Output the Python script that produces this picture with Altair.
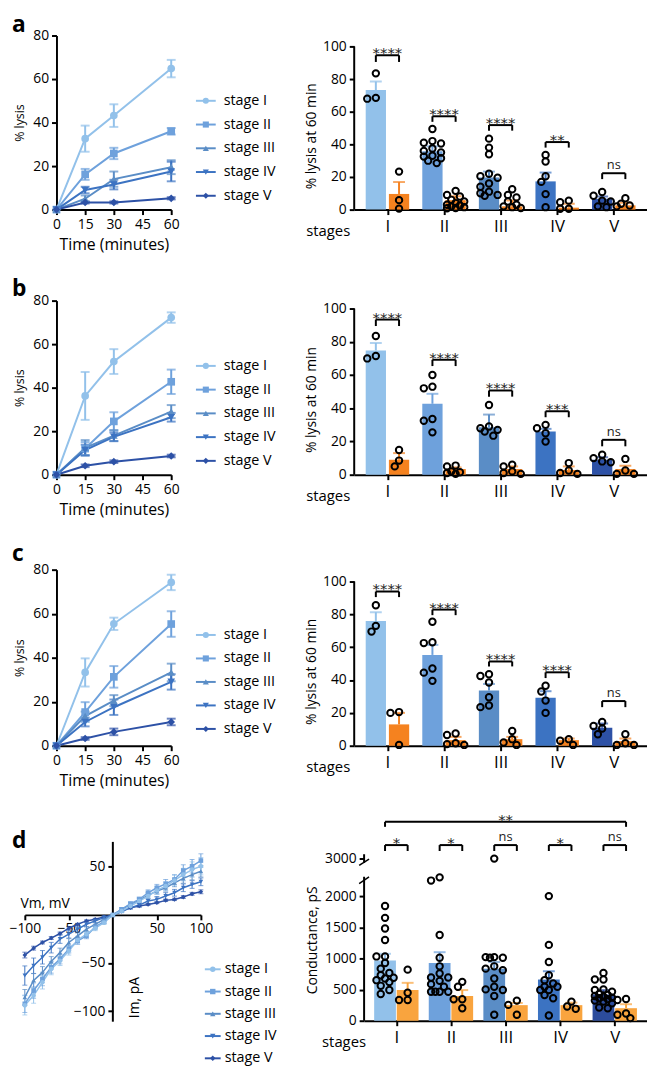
import altair as alt
import pandas as pd

FONT = "Open Sans"
STAGES = ["stage I", "stage II", "stage III", "stage IV", "stage V"]
ROMAN = ["I", "II", "III", "IV", "V"]
STAGE_COLORS = ["#92c1ea", "#6ea1dc", "#5a8dc6", "#3c73c2", "#2d51a6"]
STAGE_COLORS_D = ["#92c1ea", "#6ea1dc", "#5a8dc6", "#3c73c2", "#2c4c9c"]
STAGE_SHAPES = ["circle", "square", "triangle-up", "triangle-down", "diamond"]
ORANGE_ABC = "#f5821f"
ORANGE_D = "#f9a43e"

# ---------------- time courses (left of a, b, c) ----------------
TIME_MIN = [0, 15, 30, 60]
TIME_TICKS = [0, 15, 30, 45, 60]
LYSIS_TICKS = [0, 20, 40, 60, 80]

A_MEAN = [[0, 32.6, 43.2, 64.8], [0, 16.2, 25.8, 36.0], [0, 5.0, 14.0, 19.5],
          [0, 9.0, 11.5, 17.5], [0, 3.3, 3.3, 5.2]]
A_SEM = [[0, 6.0, 5.2, 4.0], [0, 2.5, 2.6, 1.5], [0, 1.5, 3.5, 3.2],
         [0, 1.5, 2.2, 4.5], [0, 0.5, 0.5, 0.5]]
B_MEAN = [[0, 36.2, 52.0, 72.2], [0, 12.0, 24.5, 42.7], [0, 12.4, 18.0, 29.0],
          [0, 11.3, 17.4, 26.4], [0, 4.1, 6.0, 8.6]]
B_SEM = [[0, 11.0, 5.7, 2.4], [0, 3.0, 4.2, 5.6], [0, 3.5, 2.5, 3.0],
         [0, 2.5, 2.0, 2.0], [0, 0.6, 0.6, 0.6]]
C_MEAN = [[0, 33.3, 55.4, 74.2], [0, 15.3, 31.3, 55.3], [0, 13.5, 20.5, 33.3],
          [0, 10.8, 17.5, 29.0], [0, 3.3, 6.3, 10.8]]
C_SEM = [[0, 6.4, 2.8, 3.5], [0, 4.5, 4.9, 5.8], [0, 2.0, 2.5, 4.0],
         [0, 2.0, 3.5, 3.5], [0, 0.6, 1.5, 1.5]]

# ---------------- % lysis at 60 min (right of a, b, c) ----------------
BAR_TICKS = [0, 20, 40, 60, 80, 100]
A_BLUE_MEAN = [73.3, 35.7, 19.7, 17.3, 6.6]
A_BLUE_ERR = [5.2, 3.1, 3.6, 5.4, 1.4]
A_ORG_MEAN = [9.6, 5.8, 2.0, 1.2, 2.6]
A_ORG_ERR = [7.3, 2.4, 3.6, 2.4, 1.6]
A_BLUE_PTS = [[83.5, 68.5, 68.0],
              [49.4, 42.0, 41.0, 40.5, 37.5, 36.0, 35.0, 33.0, 32.5, 31.5, 30.0, 28.5],
              [43.5, 38.0, 33.9, 22.0, 20.5, 19.5, 16.0, 14.0, 11.0, 10.0, 9.0, 8.5],
              [33.5, 29.5, 20.5, 17.0, 9.5, 1.5],
              [10.8, 8.5, 5.5, 5.0, 2.0, 1.5]]
A_ORG_PTS = [[23.3, 5.8, 0.6],
             [11.5, 9.0, 8.0, 6.0, 5.0, 4.0, 3.0, 2.5, 2.0, 1.5, 1.0, 0.8],
             [12.5, 9.0, 7.5, 5.0, 3.0, 2.0, 1.5, 1.0],
             [5.5, 4.5, 0.5, 0.5],
             [7.0, 3.6, 2.5, 2.0]]
A_SIG = [(0, 94.6, 90.5, "****"), (1, 57.2, 53.8, "****"), (2, 51.8, 48.4, "****"),
         (3, 41.4, 38.0, "**"), (4, 22.3, 18.7, "ns")]

B_BLUE_MEAN = [74.8, 42.7, 28.6, 26.0, 9.0]
B_BLUE_ERR = [4.5, 6.0, 7.6, 1.6, 1.5]
B_ORG_MEAN = [9.0, 3.4, 3.4, 2.8, 3.4]
B_ORG_ERR = [4.0, 1.0, 1.6, 2.2, 2.0]
B_BLUE_PTS = [[83.5, 71.5, 70.0], [60.0, 53.0, 52.0, 33.5, 32.5, 25.5],
              [42.0, 29.0, 28.0, 27.0, 26.0, 23.5], [30.0, 28.0, 25.0, 20.0],
              [12.0, 10.0, 8.0, 7.5]]
B_ORG_PTS = [[14.9, 8.5, 5.0], [5.5, 5.0, 2.0, 1.5, 1.0, 0.5],
             [6.0, 5.0, 2.0, 1.0, 0.5], [7.0, 2.5, 1.0, 0.5], [9.5, 2.5, 0.5, 0.5]]
B_SIG = [(0, 93.4, 89.5, "****"), (1, 69.2, 65.4, "****"), (2, 50.7, 47.0, "****"),
         (3, 38.2, 34.6, "***"), (4, 21.0, 17.1, "ns")]

C_BLUE_MEAN = [76.0, 55.3, 33.6, 29.2, 11.0]
C_BLUE_ERR = [5.3, 6.1, 4.0, 4.0, 2.5]
C_ORG_MEAN = [13.0, 3.4, 4.0, 3.4, 2.8]
C_ORG_ERR = [7.0, 2.0, 1.4, 1.0, 1.6]
C_BLUE_PTS = [[85.5, 73.0, 69.5], [75.5, 63.0, 62.5, 47.0, 44.5, 39.5],
              [43.5, 42.5, 38.5, 29.5, 24.5, 23.5], [36.5, 33.0, 27.5, 20.0],
              [14.5, 12.0, 10.5, 7.0]]
C_ORG_PTS = [[20.5, 20.0, 0.5], [7.5, 6.5, 1.5, 1.0, 0.5], [9.0, 4.0, 2.0, 0.5],
             [4.0, 3.0, 0.5], [7.0, 1.5, 0.5, 0.5]]
C_SIG = [(0, 93.9, 90.5, "****"), (1, 82.9, 79.5, "****"), (2, 51.3, 48.3, "****"),
         (3, 44.7, 41.2, "****"), (4, 27.2, 23.5, "ns")]

# ---------------- d: I-V curves ----------------
VM_STEPS = [-100, -90, -80, -70, -60, -50, -40, -30, -20, -10, 0,
            10, 20, 30, 40, 50, 60, 70, 80, 90, 100]
IV_MEAN = [
    [-94, -83.8, -70, -56.2, -47.6, -37.2, -26.2, -20, -13.8, -7.9, 0, 4.1, 9.3, 14.5, 19.7, 25.5, 30, 35.9, 42, 47.2, 50.7],
    [-92.4, -78.6, -66.6, -54.5, -45.9, -35.5, -27, -21.7, -12.4, -6.9, 0, 5.9, 11.7, 16.2, 23.1, 28.3, 32.4, 36.9, 46.2, 50.7, 56.6],
    [-85.5, -68, -59.7, -48.3, -39, -28.6, -21.7, -14.8, -9.7, -4.5, 0, 5.9, 11, 15.2, 20.7, 24.8, 28.3, 33.4, 38, 42, 45.5],
    [-63, -52.8, -44, -34, -25, -20, -14.8, -9.7, -6.2, -2.8, 0, 3.4, 7.6, 10.3, 14.5, 16.2, 19.7, 23.1, 28.3, 31.7, 34.5],
    [-41.7, -34.5, -28.6, -24, -19.3, -13.8, -9.7, -6.2, -4.5, -2, 0, 4.1, 7.6, 9.3, 11, 12.8, 15.2, 16.2, 18.6, 22, 24.1],
]
IV_SEM = [
    [10, 8, 7, 6, 5, 4.5, 4, 3, 2.5, 2, 0, 1.5, 2, 2.5, 3, 4, 4.5, 5.5, 6.5, 8, 9],
    [9, 8, 7, 6, 5, 4, 3.5, 3, 2.5, 2, 0, 1.5, 2, 2.5, 3, 3.5, 4.5, 5, 6, 7, 7],
    [8, 7, 6, 5, 4.5, 4, 3, 2.5, 2, 1.5, 0, 1.5, 2, 2.5, 3, 3, 3.5, 4, 5, 5.5, 6],
    [10, 8, 7, 5.5, 4.5, 4, 3, 2.5, 2, 1.5, 0, 1, 1.5, 2, 2.5, 3, 3.5, 3.5, 4, 4, 4],
    [3, 2, 1.5, 1.5, 1.5, 1.5, 1, 1, 1, 1, 0, 0.8, 1, 1, 1, 1, 1.2, 1.2, 1.5, 1.5, 2],
]
VM_TICKS = [-100, -50, 50, 100]
IM_TICKS = [50, -50, -100]

# ---------------- d: conductance ----------------
COND_TICKS = [0, 500, 1000, 1500, 2000, 3000]
D_BLUE_MEAN = [968, 926, 836, 661, 423]
D_BLUE_ERR = [106, 174, 106, 133, 69]
D_ORG_MEAN = [492, 397, 250, 250, 201]
D_ORG_ERR = [116, 95, 35, 40, 64]
D_BLUE_PTS = [[1841, 1651, 1481, 1296, 1032, 1032, 926, 836, 767, 730, 690, 677, 651, 620, 560, 492, 429],
              [2302, 2249, 1376, 1011, 873, 757, 693, 693, 640, 587, 545, 466, 466, 466, 466],
              [3000, 1021, 1021, 1011, 1011, 873, 836, 810, 677, 545, 503, 492, 397, 95],
              [2000, 1217, 942, 730, 651, 598, 545, 545, 492, 492, 413, 360, 85],
              [767, 661, 661, 503, 492, 466, 429, 413, 397, 386, 370, 360, 344, 323, 307, 281, 212, 201]]
D_ORG_PTS = [[820, 450, 333, 333], [624, 545, 344, 344, 201], [323, 254, 95],
             [307, 228, 191], [349, 333, 116, 95, 42]]
D_SIG = [(0, 3217, 3122, "*"), (1, 3217, 3122, "*"), (2, 3217, 3122, "ns"),
         (3, 3217, 3122, "*"), (4, 3217, 3122, "ns")]
D_BIG = (0, 4, 3590, 3510, "**")


def axis(**kw):
    base = dict(domainColor="black", domainWidth=2, tickColor="black", tickWidth=2,
                tickSize=5, labelColor="black", labelFont=FONT, labelFontSize=14,
                labelFlush=False, labelOverlap=False,
                titleColor="black", titleFont=FONT, titleFontWeight="normal", grid=False)
    base.update(kw)
    return alt.Axis(**base)


def swarm(values, ppu_y, ppu_x, dia=8.0, step_px=4.5):
    order = sorted(range(len(values)), key=lambda i: -values[i])
    placed, offs = [], [0.0] * len(values)
    for i in order:
        y = values[i] * ppu_y
        chosen = None
        for k in [0, -1, 1, -2, 2]:
            x = k * step_px
            if all((x - px) ** 2 + (y - py) ** 2 >= (dia * 0.8) ** 2 for px, py in placed):
                chosen = x
                break
        if chosen is None:
            best, chosen = -1, 0.0
            for k in [0, -1, 1, -2, 2]:
                x = k * step_px
                dmin = min(((x - px) ** 2 + (y - py) ** 2) for px, py in placed)
                if dmin > best:
                    best, chosen = dmin, x
        placed.append((chosen, y))
        offs[i] = chosen / ppu_x
    return offs


LETTER_X = -45


def letter_layer(letter, x, y):
    return alt.Chart(pd.DataFrame({"lab": [letter]})).mark_text(
        align="left", baseline="alphabetic", fontSize=23, fontWeight="bold", color="black"
    ).encode(text="lab:N", x=alt.value(x), y=alt.value(y))


def time_panel(letter, letter_y, means, sems, width, height):
    rows, caps = [], []
    for si, st in enumerate(STAGES):
        for ti, t in enumerate(TIME_MIN):
            m, e = means[si][ti], sems[si][ti]
            rows.append({"stage": st, "t": t, "m": m, "lo": m - e, "hi": m + e})
            if e > 0:
                caps.append({"stage": st, "t": t, "c": m - e})
                caps.append({"stage": st, "t": t, "c": m + e})
    df, dc = pd.DataFrame(rows), pd.DataFrame(caps)
    xs = alt.Scale(domain=[0, 60], nice=False, zero=False)
    ys = alt.Scale(domain=[0, 80], nice=False, zero=False)
    xax = axis(values=TIME_TICKS, title="Time (minutes)", titleFontSize=16, labelPadding=3, titlePadding=5)
    yax = axis(values=LYSIS_TICKS, title="% lysis", titleFontSize=12.5, labelPadding=3, titlePadding=6)

    def X(f):
        return alt.X(f"{f}:Q", scale=xs, axis=xax)

    def Y(f):
        return alt.Y(f"{f}:Q", scale=ys, axis=yax)

    col = alt.Color("stage:N", scale=alt.Scale(domain=STAGES, range=STAGE_COLORS), legend=None)
    shp = alt.Shape("stage:N", scale=alt.Scale(domain=STAGES, range=STAGE_SHAPES), legend=None)
    err = alt.Chart(df).mark_rule(strokeWidth=2).encode(x=X("t"), y=Y("lo"), y2="hi:Q", color=col)
    cap = alt.Chart(dc).mark_tick(orient="horizontal", size=9, thickness=2).encode(x=X("t"), y=Y("c"), color=col)
    line = alt.Chart(df).mark_line(strokeWidth=2).encode(x=X("t"), y=Y("m"), color=col, detail="stage:N")
    pts = alt.Chart(df).mark_point(filled=True, size=60, opacity=1).encode(
        x=X("t"), y=Y("m"), color=col, shape=shp)
    return alt.layer(err, cap, line, pts, letter_layer(letter, LETTER_X, letter_y)).properties(
        width=width, height=height)


def legend_panel(width, height, y0, y1, xl0, xl1, xm, xt, msize, fsize, lw, colors):
    df = pd.DataFrame({"stage": STAGES})
    y = alt.Y("stage:N", scale=alt.Scale(type="point", domain=STAGES, range=[y0, y1], padding=0), axis=None)
    col = alt.Color("stage:N", scale=alt.Scale(domain=STAGES, range=colors), legend=None)
    shp = alt.Shape("stage:N", scale=alt.Scale(domain=STAGES, range=STAGE_SHAPES), legend=None)
    r = alt.Chart(df).mark_rule(strokeWidth=lw).encode(x=alt.value(xl0), x2=alt.value(xl1), y=y, color=col)
    p = alt.Chart(df).mark_point(filled=True, size=msize, opacity=1).encode(x=alt.value(xm), y=y, color=col, shape=shp)
    t = alt.Chart(df).mark_text(align="left", baseline="middle", fontSize=fsize, color="black").encode(
        x=alt.value(xt), y=y, text="stage:N")
    return alt.layer(r, p, t).properties(width=width, height=height)


def bar_panel(bm, be, om, oe, bp, op, sig, big, width, height, yscale, yticks, segs, breaks,
              ytitle, ytitle_val, ytitle_x, orange, colors, ppu, off, bar_w, cap_w, stages_x,
              x0=0, psize=42, yfmt=None):
    step = (width - x0) / 5.0
    bars, pts = [], []
    for i in range(5):
        bars.append({"x": i - off, "m": bm[i], "hi": bm[i] + be[i], "col": colors[i]})
        bars.append({"x": i + off, "m": om[i], "hi": om[i] + oe[i], "col": orange})
        for vals, sgn in ((bp[i], -1), (op[i], 1)):
            for v, o in zip(vals, swarm(vals, ppu, step)):
                pts.append({"x": i + sgn * off + o, "v": v})
    dfb, dfp = pd.DataFrame(bars), pd.DataFrame(pts)

    br, legs, txt = [], [], []
    items = [(i - off, i + off, top, leg, lab) for i, top, leg, lab in sig]
    if big is not None:
        items.append((big[0] - off, big[1] + off, big[2], big[3], big[4]))
    for x1, x2, top, leg, lab in items:
        br.append({"x1": x1, "x2": x2, "top": top})
        legs.append({"x": x1, "top": top, "leg": leg})
        legs.append({"x": x2, "top": top, "leg": leg})
        txt.append({"x": (x1 + x2) / 2, "top": top, "lab": lab, "ns": lab == "ns"})
    dfbr, dflg, dft = pd.DataFrame(br), pd.DataFrame(legs), pd.DataFrame(txt)

    xs = alt.Scale(domain=[-0.5, 4.5], range=[x0, width], nice=False, zero=False)
    expr = "[" + ",".join("'%s'" % r for r in ROMAN) + "][datum.value]"
    xax = axis(values=[0, 1, 2, 3, 4], labelExpr=expr, labelFontSize=17, labelPadding=4, title=None)
    ykw = dict(values=yticks, domain=False, title=None, labelPadding=3, offset=-x0)
    if yfmt:
        ykw["format"] = yfmt
    yax = axis(**ykw)

    def X(f):
        return alt.X(f"{f}:Q", scale=xs, axis=xax)

    def Y(f):
        return alt.Y(f"{f}:Q", scale=yscale, axis=yax)

    colr = alt.Color("col:N", scale=None)
    layers = [
        alt.Chart(dfb).mark_rule(strokeWidth=2).encode(x=X("x"), y=Y("m"), y2="hi:Q", color=colr),
        alt.Chart(dfb).mark_tick(orient="horizontal", size=cap_w, thickness=2).encode(x=X("x"), y=Y("hi"), color=colr),
        alt.Chart(dfb).mark_bar(width=bar_w).encode(x=X("x"), y=Y("m"), color=colr),
        alt.Chart(dfp).mark_point(shape="circle", filled=False, stroke="black", strokeWidth=2,
                                  size=psize, opacity=1).encode(x=X("x"), y=Y("v")),
        alt.Chart(dfbr).mark_rule(strokeWidth=2, color="black").encode(x=X("x1"), x2="x2:Q", y=Y("top")),
        alt.Chart(dflg).mark_rule(strokeWidth=2, color="black").encode(x=X("x"), y=Y("leg"), y2="top:Q"),
        alt.Chart(dft[~dft["ns"]]).mark_text(font="DejaVu Sans", fontSize=15, baseline="alphabetic",
                                             dy=3, color="#222").encode(x=X("x"), y=Y("top"), text="lab:N"),
        alt.Chart(dft[dft["ns"]]).mark_text(fontSize=13, baseline="alphabetic", dy=-4,
                                            color="#222").encode(x=X("x"), y=Y("top"), text="lab:N"),
        alt.Chart(pd.DataFrame([{"a": a, "b": b} for a, b in segs])).mark_rule(
            strokeWidth=2, color="black").encode(x=alt.value(x0), y=Y("a"), y2="b:Q"),
        alt.Chart(pd.DataFrame({"lab": [ytitle], "yv": [ytitle_val]})).mark_text(
            angle=270, fontSize=14, baseline="middle", align="center", color="black").encode(
            x=alt.value(ytitle_x), y=Y("yv"), text="lab:N"),
        alt.Chart(pd.DataFrame({"lab": ["stages"]})).mark_text(
            align="right", baseline="middle", fontSize=15, color="black").encode(
            x=alt.value(stages_x), y=alt.value(height + 22), text="lab:N"),
    ]
    if breaks:
        layers.append(alt.Chart(pd.DataFrame([{"a": a, "b": b} for a, b in breaks])).mark_rule(
            strokeWidth=1.5, color="black").encode(x=alt.value(x0 - 5), x2=alt.value(x0 + 5), y=Y("a"), y2="b:Q"))
    return alt.layer(*layers).properties(width=width, height=height)


def iv_panel(width, height, xr0, xr1):
    rows, caps = [], []
    for si in reversed(range(len(STAGES))):
        st = STAGES[si]
        for vi, v in enumerate(VM_STEPS):
            m, e = IV_MEAN[si][vi], IV_SEM[si][vi]
            rows.append({"stage": st, "v": v, "m": m, "lo": m - e, "hi": m + e})
            if e > 0:
                caps.append({"stage": st, "v": v, "c": m - e})
                caps.append({"stage": st, "v": v, "c": m + e})
    df, dc = pd.DataFrame(rows), pd.DataFrame(caps)
    ylo, yhi = -110, 104
    xs = alt.Scale(domain=[-100, 100], range=[xr0, xr1], nice=False, zero=False)
    ys = alt.Scale(domain=[ylo, yhi], nice=False, zero=False)
    xoff = -round((0 - ylo) / (yhi - ylo) * height)
    xax = axis(values=VM_TICKS, title=None, offset=xoff, labelPadding=2)
    yax = axis(values=IM_TICKS, title=None, offset=-(xr0 + xr1) / 2, domain=False, labelPadding=3)

    def X(f):
        return alt.X(f"{f}:Q", scale=xs, axis=xax)

    def Y(f):
        return alt.Y(f"{f}:Q", scale=ys, axis=yax)

    col = alt.Color("stage:N", scale=alt.Scale(domain=STAGES, range=STAGE_COLORS_D), legend=None)
    shp = alt.Shape("stage:N", scale=alt.Scale(domain=STAGES, range=STAGE_SHAPES), legend=None)
    yaxis_line = alt.Chart(pd.DataFrame({"x0": [0], "a": [-111], "b": [76]})).mark_rule(
        strokeWidth=2, color="black").encode(x=X("x0"), y=Y("a"), y2="b:Q")
    err = alt.Chart(df).mark_rule(strokeWidth=1).encode(x=X("v"), y=Y("lo"), y2="hi:Q", color=col)
    cap = alt.Chart(dc).mark_tick(orient="horizontal", size=5, thickness=1).encode(x=X("v"), y=Y("c"), color=col)
    line = alt.Chart(df).mark_line(strokeWidth=1.5).encode(x=X("v"), y=Y("m"), color=col, detail="stage:N")
    pts = alt.Chart(df).mark_point(filled=True, size=22, opacity=1).encode(x=X("v"), y=Y("m"), color=col, shape=shp)
    labs = pd.DataFrame({"lab": ["Vm, mV", "Im, pA"], "x": [-105, 25], "y": [7, -86]})
    vm = alt.Chart(labs.iloc[[0]]).mark_text(align="left", baseline="alphabetic", fontSize=14, color="black").encode(
        x=X("x"), y=Y("y"), text="lab:N")
    im = alt.Chart(labs.iloc[[1]]).mark_text(angle=270, align="center", baseline="middle", fontSize=14,
                                            color="black").encode(x=X("x"), y=Y("y"), text="lab:N")
    return alt.layer(yaxis_line, err, cap, line, pts, vm, im, letter_layer("d", LETTER_X, 33)).properties(
        width=width, height=height)


LW, RW, LEGW = 116, 296, 165
H_AB, H_C, H_D = 176, 178, 208

abc_scale = lambda top: alt.Scale(domain=[0, top], nice=False, zero=False)

cells = []
# row a
cells += [time_panel("a", -4, A_MEAN, A_SEM, LW, H_AB),
          legend_panel(LEGW, 206, 66, 162, 15, 35, 25, 43, 38, 14.5, 2, STAGE_COLORS),
          bar_panel(A_BLUE_MEAN, A_BLUE_ERR, A_ORG_MEAN, A_ORG_ERR, A_BLUE_PTS, A_ORG_PTS, A_SIG, None,
                    RW, H_AB, abc_scale(106.7), BAR_TICKS, [(0, 100)], None, "% lysis at 60 min", 45, -43,
                    ORANGE_ABC, STAGE_COLORS, 176 / 106.7, 0.205, 20.5, 12, -4)]
# row b
cells += [time_panel("b", -5, B_MEAN, B_SEM, LW, H_AB),
          legend_panel(LEGW, 210, 66, 162, 15, 35, 25, 43, 38, 14.5, 2, STAGE_COLORS),
          bar_panel(B_BLUE_MEAN, B_BLUE_ERR, B_ORG_MEAN, B_ORG_ERR, B_BLUE_PTS, B_ORG_PTS, B_SIG, None,
                    RW, H_AB, abc_scale(104.8), BAR_TICKS, [(0, 100)], None, "% lysis at 60 min", 45, -43,
                    ORANGE_ABC, STAGE_COLORS, 176 / 104.8, 0.205, 20.5, 12, -4)]
# row c
cells += [time_panel("c", -9, C_MEAN, C_SEM, LW, H_C),
          legend_panel(LEGW, 186, 66, 161, 15, 35, 25, 43, 38, 14.5, 2, STAGE_COLORS),
          bar_panel(C_BLUE_MEAN, C_BLUE_ERR, C_ORG_MEAN, C_ORG_ERR, C_BLUE_PTS, C_ORG_PTS, C_SIG, None,
                    RW, H_C, abc_scale(107.2), BAR_TICKS, [(0, 100)], None, "% lysis at 60 min", 45, -43,
                    ORANGE_ABC, STAGE_COLORS, 178 / 107.2, 0.205, 20.5, 12, -4)]
# row d
d_scale = alt.Scale(domain=[0, 2300, 2900, 3700], range=[H_D, 63.1, 50.4, 0], nice=False, zero=False)
cells += [iv_panel(LW, H_D, -32, 146),
          legend_panel(LEGW, H_D, 156, 246, 24, 40, 32, 44, 30, 14.5, 2, STAGE_COLORS_D),
          bar_panel(D_BLUE_MEAN, D_BLUE_ERR, D_ORG_MEAN, D_ORG_ERR, D_BLUE_PTS, D_ORG_PTS, D_SIG, D_BIG,
                    RW, H_D, d_scale, COND_TICKS, [(0, 2330), (2930, 3070)], [(2200, 2330), (2870, 2990)],
                    "Conductance, pS", 1290, -42, ORANGE_D, STAGE_COLORS_D, 0.063, 0.207, 22, 12, 12,
                    x0=10, yfmt="d")]

chart = alt.concat(
    *cells, columns=3, spacing={"row": 62, "column": 10},
    align="each", bounds="flush",
).properties(padding=0).configure(font=FONT).configure_view(stroke=None)

chart.save("out.html", embed_options={"renderer": "svg", "actions": False})
